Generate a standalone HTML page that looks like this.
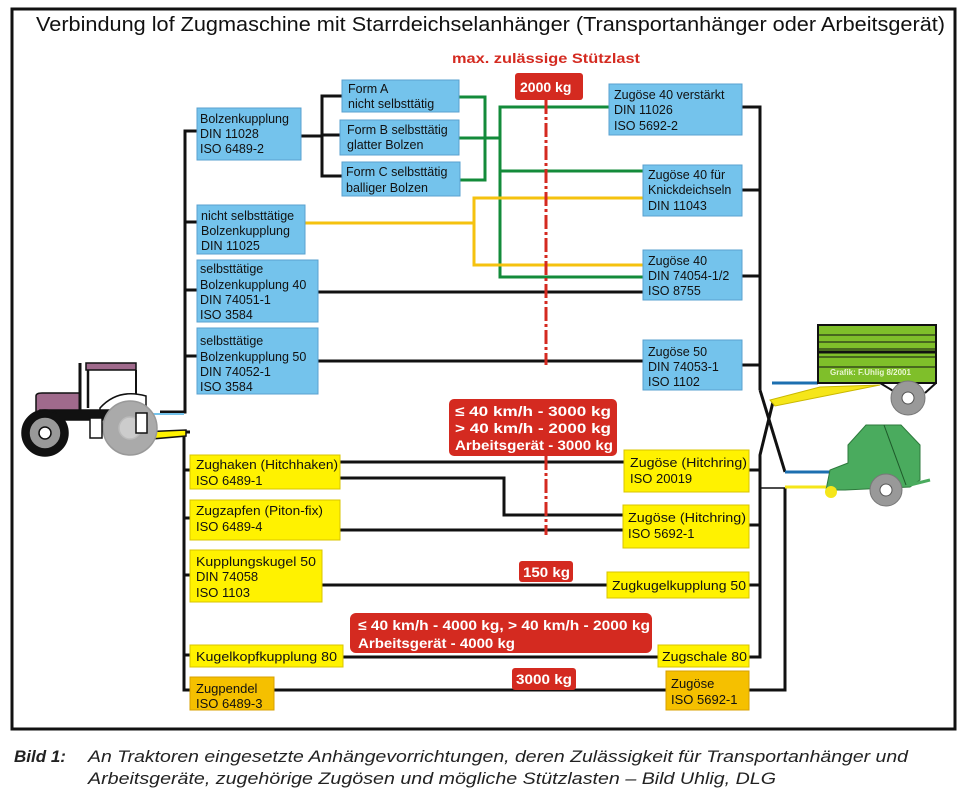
<!DOCTYPE html>
<html><head><meta charset="utf-8"><style>
html,body{margin:0;padding:0;background:#fff;width:969px;height:796px;overflow:hidden}
svg{display:block}
text{font-family:"Liberation Sans",Arial,sans-serif}
</style></head><body>
<svg width="969" height="796" viewBox="0 0 969 796" xmlns="http://www.w3.org/2000/svg">
<rect x="12" y="9" width="943" height="720" fill="none" stroke="#111" stroke-width="3"/>
<text x="36" y="31" font-size="20" textLength="909" lengthAdjust="spacingAndGlyphs" fill="#111">Verbindung lof Zugmaschine mit Starrdeichselanhänger (Transportanhänger oder Arbeitsgerät)</text>
<text x="452" y="63" font-size="14" font-weight="bold" fill="#d42a20" textLength="188" lengthAdjust="spacingAndGlyphs">max. zulässige Stützlast</text>

<g stroke="#111" stroke-width="3" fill="none">
<polyline points="197,131 185,131 185,412 160,412"/>
<line x1="185" y1="222" x2="197" y2="222"/>
<line x1="185" y1="290" x2="197" y2="290"/>
<line x1="185" y1="356" x2="197" y2="356"/>
<polyline points="301,136 322,136"/>
<polyline points="342,96 322,96 322,176 342,176"/>
<line x1="322" y1="135" x2="340" y2="135"/>
<line x1="318" y1="292" x2="643" y2="292"/>
<line x1="318" y1="361" x2="643" y2="361"/>
<polyline points="742,107 760,107 760,390"/>
<line x1="742" y1="190" x2="760" y2="190"/>
<line x1="742" y1="276" x2="760" y2="276"/>
<line x1="742" y1="365" x2="760" y2="365"/>
<polyline points="760,390 785,472"/>
<polyline points="773,402 760,455 760,657 749,657"/>
<polyline points="190,432 184,432 184,690 190,690"/>
<line x1="184" y1="470" x2="190" y2="470"/>
<line x1="184" y1="518" x2="190" y2="518"/>
<line x1="184" y1="575" x2="190" y2="575"/>
<line x1="184" y1="655" x2="190" y2="655"/>
<line x1="340" y1="462" x2="624" y2="462"/>
<polyline points="340,478 504,478 504,515 623,515"/>
<line x1="340" y1="530" x2="623" y2="530"/>
<line x1="322" y1="585" x2="607" y2="585"/>
<line x1="343" y1="657" x2="658" y2="657"/>
<line x1="274" y1="690" x2="666" y2="690"/>
<line x1="749" y1="470" x2="760" y2="470"/>
<line x1="749" y1="525" x2="760" y2="525"/>
<line x1="749" y1="585" x2="760" y2="585"/>
<polyline points="749,690 785,690 785,488"/>
<line x1="760" y1="488" x2="785" y2="488" stroke-width="1.5"/>
</g>
<g stroke="#138b3a" stroke-width="3" fill="none">
<polyline points="459,97 485,97 485,180 460,180"/>
<line x1="459" y1="138" x2="500" y2="138"/>
<polyline points="609,107 500,107 500,277 643,277"/>
<line x1="500" y1="171" x2="643" y2="171"/>
</g>
<g stroke="#f5c20f" stroke-width="3" fill="none">
<line x1="305" y1="223" x2="474" y2="223"/>
<polyline points="643,198 474,198 474,265 643,265"/>
</g>
<line x1="546" y1="100" x2="546" y2="365" stroke="#d42a20" stroke-width="3" stroke-dasharray="14,3,3,3"/>
<line x1="546" y1="456" x2="546" y2="535" stroke="#d42a20" stroke-width="3" stroke-dasharray="14,3,3,3"/>

<g fill="#74c3ec" stroke="#5aa0cf" stroke-width="1">
<rect x="197" y="108" width="104" height="52"/>
<rect x="342" y="80" width="117" height="32"/>
<rect x="340" y="120" width="119" height="35"/>
<rect x="342" y="162" width="118" height="34"/>
<rect x="197" y="205" width="108" height="49"/>
<rect x="197" y="260" width="121" height="62"/>
<rect x="197" y="328" width="121" height="66"/>
<rect x="609" y="84" width="133" height="51"/>
<rect x="643" y="165" width="99" height="51"/>
<rect x="643" y="250" width="99" height="50"/>
<rect x="643" y="340" width="99" height="50"/>
</g>
<g font-size="12.5" fill="#111">
<text x="200" y="123">Bolzenkupplung</text><text x="200" y="138">DIN 11028</text><text x="200" y="153">ISO 6489-2</text>
<text x="348" y="93">Form A</text><text x="348" y="108">nicht selbsttätig</text>
<text x="347" y="134">Form B selbsttätig</text><text x="347" y="149">glatter Bolzen</text>
<text x="346" y="176">Form C selbsttätig</text><text x="346" y="192">balliger Bolzen</text>
<text x="201" y="220">nicht selbsttätige</text><text x="201" y="235">Bolzenkupplung</text><text x="201" y="250">DIN 11025</text>
<text x="200" y="273">selbsttätige</text><text x="200" y="289">Bolzenkupplung 40</text><text x="200" y="304">DIN 74051-1</text><text x="200" y="319">ISO 3584</text>
<text x="200" y="345">selbsttätige</text><text x="200" y="361">Bolzenkupplung 50</text><text x="200" y="376">DIN 74052-1</text><text x="200" y="391">ISO 3584</text>
<text x="614" y="99">Zugöse 40 verstärkt</text><text x="614" y="114">DIN 11026</text><text x="614" y="130">ISO 5692-2</text>
<text x="648" y="179">Zugöse 40 für</text><text x="648" y="194">Knickdeichseln</text><text x="648" y="210">DIN 11043</text>
<text x="648" y="265">Zugöse 40</text><text x="648" y="280">DIN 74054-1/2</text><text x="648" y="295">ISO 8755</text>
<text x="648" y="356">Zugöse 50</text><text x="648" y="371">DIN 74053-1</text><text x="648" y="386">ISO 1102</text>
</g>

<g fill="#fff200" stroke="#d8c400" stroke-width="1">
<rect x="190" y="455" width="150" height="34"/>
<rect x="190" y="500" width="150" height="40"/>
<rect x="190" y="550" width="132" height="52"/>
<rect x="190" y="645" width="153" height="22"/>
<rect x="624" y="450" width="125" height="42"/>
<rect x="623" y="505" width="126" height="43"/>
<rect x="607" y="572" width="142" height="26"/>
<rect x="658" y="645" width="91" height="22"/>
</g>
<g fill="#f5c000" stroke="#d8a000" stroke-width="1">
<rect x="190" y="677" width="84" height="33"/>
<rect x="666" y="671" width="83" height="39"/>
</g>
<g font-size="13" fill="#111">
<text x="196" y="469" textLength="142" lengthAdjust="spacingAndGlyphs">Zughaken (Hitchhaken)</text><text x="196" y="485">ISO 6489-1</text>
<text x="196" y="515" textLength="127" lengthAdjust="spacingAndGlyphs">Zugzapfen (Piton-fix)</text><text x="196" y="531">ISO 6489-4</text>
<text x="196" y="566" textLength="120" lengthAdjust="spacingAndGlyphs">Kupplungskugel 50</text><text x="196" y="581">DIN 74058</text><text x="196" y="597">ISO 1103</text>
<text x="196" y="661" textLength="141" lengthAdjust="spacingAndGlyphs">Kugelkopfkupplung 80</text>
<text x="196" y="693">Zugpendel</text><text x="196" y="708">ISO 6489-3</text>
<text x="630" y="467" textLength="117" lengthAdjust="spacingAndGlyphs">Zugöse (Hitchring)</text><text x="630" y="483">ISO 20019</text>
<text x="628" y="522" textLength="118" lengthAdjust="spacingAndGlyphs">Zugöse (Hitchring)</text><text x="628" y="538">ISO 5692-1</text>
<text x="612" y="590" textLength="134" lengthAdjust="spacingAndGlyphs">Zugkugelkupplung 50</text>
<text x="662" y="661" textLength="85" lengthAdjust="spacingAndGlyphs">Zugschale 80</text>
<text x="671" y="688">Zugöse</text><text x="671" y="704">ISO 5692-1</text>
</g>

<g fill="#d42a20">
<rect x="515" y="73" width="68" height="27" rx="3"/>
<rect x="449" y="399" width="168" height="57" rx="5"/>
<rect x="519" y="561" width="54" height="21" rx="3"/>
<rect x="350" y="613" width="302" height="40" rx="6"/>
<rect x="512" y="668" width="64" height="22" rx="3"/>
</g>
<g fill="#fff" font-weight="bold" font-size="14">
<text x="520" y="92">2000 kg</text>
<text x="455" y="416" textLength="156" lengthAdjust="spacingAndGlyphs">≤ 40 km/h - 3000 kg</text>
<text x="455" y="433" textLength="156" lengthAdjust="spacingAndGlyphs">&gt; 40 km/h - 2000 kg</text>
<text x="455" y="450" textLength="158" lengthAdjust="spacingAndGlyphs">Arbeitsgerät - 3000 kg</text>
<text x="523" y="577" textLength="47" lengthAdjust="spacingAndGlyphs">150 kg</text>
<text x="358" y="630" textLength="292" lengthAdjust="spacingAndGlyphs">≤ 40 km/h - 4000 kg, &gt; 40 km/h - 2000 kg</text>
<text x="358" y="648" textLength="157" lengthAdjust="spacingAndGlyphs">Arbeitsgerät - 4000 kg</text>
<text x="516" y="684" textLength="56" lengthAdjust="spacingAndGlyphs">3000 kg</text>
</g>

<!-- tractor -->
<g stroke="#111" stroke-width="1.5">
<line x1="150" y1="414" x2="184" y2="414" stroke="#74c3ec" stroke-width="2"/>
<polygon points="140,432 186,430 186,436 140,440" fill="#fff200"/>
<path d="M36,396 Q36,393 42,393 L80,393 L80,415 L36,415 Z" fill="#a06a8c"/>
<path d="M86,363 L136,363 L136,370 L86,370 Z" fill="#a06a8c"/>
<line x1="80" y1="363" x2="80" y2="418" stroke-width="3"/>
<line x1="136" y1="370" x2="136" y2="398" stroke-width="2"/>
<line x1="88" y1="370" x2="88" y2="408" stroke-width="2.5"/>
<path d="M100,408 Q118,388 146,396 L146,412 L100,414 Z" fill="#fff"/>
<rect x="40" y="410" width="100" height="10" fill="#111"/>
<circle cx="130" cy="428" r="27" fill="#aaa" stroke="#999"/>
<circle cx="130" cy="428" r="11" fill="#ccc" stroke="#bbb"/>
<rect x="90" y="418" width="12" height="20" fill="#fff"/>
<circle cx="45" cy="433" r="23" fill="#111"/>
<circle cx="45" cy="433" r="16" fill="#999"/>
<circle cx="45" cy="433" r="6" fill="#fff"/>
<rect x="136" y="413" width="11" height="20" fill="#fff"/>
</g>

<g>
<line x1="772" y1="383" x2="818" y2="383" stroke="#1c6fb0" stroke-width="3"/>
<polygon points="770,400 775,406 880,385 820,387" fill="#f5e61a" stroke="#c9b800" stroke-width="1"/>
<rect x="818" y="325" width="118" height="58" fill="#7fbf2a" stroke="#111" stroke-width="2"/>
<g stroke="#111" stroke-width="1"><line x1="818" y1="335" x2="936" y2="335"/><line x1="818" y1="342" x2="936" y2="342"/><line x1="818" y1="349" x2="936" y2="349"/><line x1="818" y1="357" x2="936" y2="357"/><line x1="818" y1="367" x2="936" y2="367"/></g>
<line x1="818" y1="352" x2="936" y2="352" stroke="#111" stroke-width="3"/>
<text x="830" y="375" font-size="8" font-weight="bold" fill="#e8f5d0">Grafik: F.Uhlig 8/2001</text>
<line x1="880" y1="383" x2="895" y2="392" stroke="#111" stroke-width="2"/>
<line x1="936" y1="383" x2="925" y2="393" stroke="#111" stroke-width="2"/>
<circle cx="908" cy="398" r="17" fill="#999" stroke="#777"/>
<circle cx="908" cy="398" r="6" fill="#fff" stroke="#555"/>
</g>
<g>
<line x1="785" y1="472" x2="830" y2="472" stroke="#1c6fb0" stroke-width="3"/>
<line x1="785" y1="487" x2="826" y2="487" stroke="#f5e61a" stroke-width="3"/>
<polygon points="848,445 866,425 901,425 920,445 920,480 910,487 845,490 826,490 830,470 848,463" fill="#4aab5e" stroke="#2d7a3c"/>
<line x1="884" y1="425" x2="906" y2="485" stroke="#1e5a2a"/>
<line x1="910" y1="485" x2="930" y2="480" stroke="#4aab5e" stroke-width="3"/>
<circle cx="831" cy="492" r="6" fill="#f5e61a"/>
<circle cx="886" cy="490" r="16" fill="#999" stroke="#777"/>
<circle cx="886" cy="490" r="6" fill="#fff" stroke="#555"/>
</g>

<text x="14" y="762" font-size="17" font-style="italic" font-weight="bold" fill="#222">Bild 1:</text>
<text x="88" y="762" font-size="17" font-style="italic" fill="#222" textLength="820" lengthAdjust="spacingAndGlyphs">An Traktoren eingesetzte Anhängevorrichtungen, deren Zulässigkeit für Transportanhänger und</text>
<text x="88" y="784" font-size="17" font-style="italic" fill="#222" textLength="688" lengthAdjust="spacingAndGlyphs">Arbeitsgeräte, zugehörige Zugösen und mögliche Stützlasten – Bild Uhlig, DLG</text>
</svg>
</body></html>
